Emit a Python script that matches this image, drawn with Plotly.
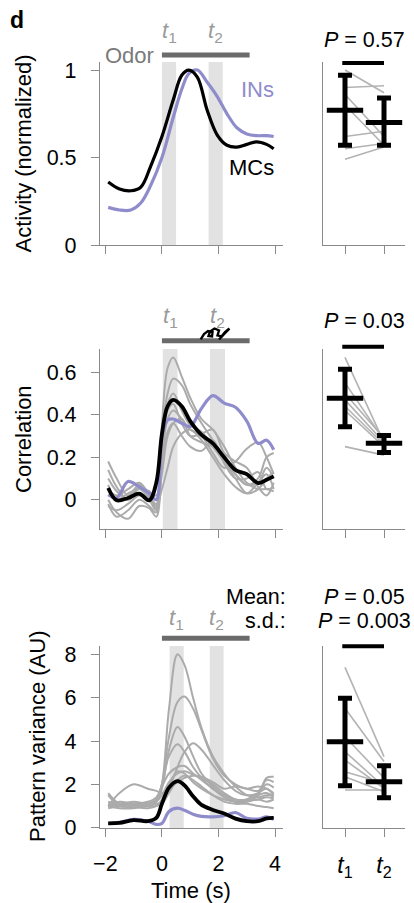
import plotly.graph_objects as go

W, H = 414, 903
FONT = "Liberation Sans"
GRAY_AX = "#8a8a8a"
PURPLE = "#8f8ccc"
GRAYLINE = "#ababab"
SHADE = "#e2e2e2"
ODOR = "#6b6b6b"
TLAB = "#9a9a9a"

def px(x):
    return x / W

def py(y):
    return 1 - y / H

# ---------------- Panel 1: activity ----------------
t_act = [-1.9, -1.5, -1.1, -0.75, -0.4, 0, 0.4, 0.7, 0.95, 1.25, 1.6, 1.95, 2.3, 2.65, 3.0, 3.35, 3.7, 3.95]
mc_act = [0.36, 0.32, 0.31, 0.33, 0.45, 0.62, 0.83, 0.97, 1.0, 0.96, 0.77, 0.63, 0.57, 0.56, 0.575, 0.59, 0.575, 0.55]
in_act = [0.215, 0.2, 0.2, 0.24, 0.34, 0.50, 0.73, 0.89, 0.98, 1.0, 0.93, 0.85, 0.75, 0.67, 0.635, 0.625, 0.625, 0.62]
win_act = [(0.0, 0.5), (1.65, 2.15)]

act_t1 = [1.0, 0.9, 0.86, 0.80, 0.62, 0.55, 0.49]
act_t2 = [0.87, 0.91, 0.62, 0.57, 0.65, 0.58, 0.56]
act_mean = [0.77, 0.70]
act_hi = [0.97, 0.84]
act_lo = [0.57, 0.57]

# ---------------- Panel 2: correlation ----------------
t_cor = [-1.9, -1.6, -1.2, -0.8, -0.45, -0.2, 0, 0.2, 0.4, 0.7, 1.0, 1.4, 1.8, 2.2, 2.6, 3.0, 3.4, 3.7, 3.95]
mc_cor = [0.055, -0.003, 0.008, 0.028, -0.003, 0.08, 0.31, 0.44, 0.47, 0.44, 0.37, 0.305, 0.265, 0.20, 0.14, 0.12, 0.078, 0.094, 0.11]
in_cor = [0.023, 0.008, 0.086, 0.06, 0.03, 0.0, 0.30, 0.375, 0.38, 0.36, 0.345, 0.43, 0.49, 0.455, 0.435, 0.37, 0.265, 0.28, 0.235]
gray_cor = [
    [0.14, 0.06, 0.0, 0.05, 0.0, -0.05, 0.35, 0.62, 0.67, 0.58, 0.48, 0.38, 0.33, 0.25, 0.15, 0.08, 0.05, 0.05, 0.04],
    [0.18, 0.1, 0.02, 0.07, 0.02, -0.02, 0.3, 0.5, 0.57, 0.54, 0.45, 0.36, 0.28, 0.2, 0.12, 0.07, 0.1, 0.2, 0.22],
    [-0.02, -0.08, -0.05, 0.0, -0.03, -0.06, 0.25, 0.42, 0.45, 0.36, 0.3, 0.31, 0.33, 0.22, 0.18, 0.15, 0.06, 0.02, 0.08],
    [0.05, 0.02, 0.05, 0.08, 0.03, 0.02, 0.2, 0.38, 0.42, 0.38, 0.33, 0.3, 0.22, 0.15, 0.18, 0.24, 0.27, 0.2, 0.12],
    [-0.03, -0.05, -0.02, 0.02, 0.0, -0.04, 0.12, 0.3, 0.36, 0.38, 0.3, 0.27, 0.25, 0.18, 0.1, 0.03, 0.05, 0.1, 0.13],
    [0.1, 0.04, 0.0, 0.06, 0.01, -0.03, 0.05, 0.15, 0.25, 0.31, 0.33, 0.28, 0.2, 0.12, 0.06, 0.03, 0.08, 0.12, 0.05],
    [0.0, -0.06, -0.09, -0.03, -0.04, -0.08, 0.15, 0.32, 0.36, 0.3, 0.25, 0.23, 0.28, 0.17, 0.1, 0.1, 0.13, 0.05, 0.06],
    [0.07, 0.0, 0.03, 0.05, 0.04, 0.0, 0.28, 0.45, 0.5, 0.42, 0.35, 0.32, 0.25, 0.18, 0.12, 0.07, 0.08, 0.15, 0.1],
]
win_cor = [(0.03, 0.55), (1.7, 2.23)]

cor_t1 = [0.67, 0.55, 0.50, 0.47, 0.44, 0.42, 0.25]
cor_t2 = [0.27, 0.28, 0.29, 0.27, 0.26, 0.25, 0.21]
cor_mean = [0.478, 0.266]
cor_hi = [0.614, 0.302]
cor_lo = [0.344, 0.222]

# ---------------- Panel 3: pattern variance ----------------
t_var = [-1.9, -1.5, -1.0, -0.5, -0.2, 0, 0.25, 0.55, 0.8, 1.1, 1.4, 1.8, 2.2, 2.6, 3.0, 3.4, 3.7, 3.95]
mc_var = [0.2, 0.22, 0.35, 0.3, 0.45, 1.1, 1.85, 2.15, 1.95, 1.45, 1.05, 0.82, 0.65, 0.42, 0.3, 0.3, 0.43, 0.45]
in_var = [0.2, 0.25, 0.38, 0.3, 0.15, 0.2, 0.75, 0.9, 0.8, 0.62, 0.52, 0.5, 0.55, 0.7, 0.43, 0.4, 0.5, 0.38]
gray_var = [
    [1.0, 1.0, 1.1, 1.0, 1.2, 2.0, 5.5, 8.0, 7.5, 6.0, 4.6, 3.3, 2.5, 1.9, 1.5, 1.4, 1.5, 1.5],
    [1.1, 1.0, 1.0, 1.1, 1.3, 2.0, 4.2, 5.8, 6.05, 5.5, 4.5, 3.2, 2.4, 2.0, 1.8, 1.9, 1.8, 1.6],
    [0.9, 1.0, 1.1, 1.0, 1.2, 1.8, 3.6, 4.65, 4.2, 3.3, 2.5, 1.9, 1.5, 1.3, 1.3, 1.5, 1.6, 1.4],
    [1.0, 1.1, 1.0, 1.1, 1.3, 2.0, 3.3, 3.85, 3.5, 2.8, 2.3, 1.8, 1.4, 1.2, 1.2, 1.3, 1.2, 1.3],
    [1.6, 1.1, 1.0, 1.0, 1.1, 1.2, 1.8, 2.8, 3.5, 3.9, 3.6, 2.9, 2.2, 1.7, 1.5, 1.6, 2.0, 1.85],
    [1.0, 1.2, 1.1, 1.2, 1.4, 1.9, 2.5, 2.8, 2.85, 2.5, 2.2, 1.8, 1.5, 1.2, 1.3, 1.6, 1.8, 1.5],
    [1.2, 1.1, 1.2, 1.1, 1.2, 1.5, 2.1, 2.5, 2.6, 2.45, 2.3, 2.0, 1.6, 1.3, 1.2, 1.5, 2.3, 2.35],
    [1.0, 1.6, 2.0, 1.8, 1.7, 1.6, 1.8, 2.1, 2.3, 2.4, 2.35, 2.1, 1.8, 1.9, 1.8, 1.7, 2.2, 2.1],
    [1.0, 0.9, 0.9, 1.0, 1.0, 1.1, 1.6, 2.2, 2.4, 2.2, 1.9, 1.5, 1.2, 1.1, 1.1, 1.0, 0.95, 0.9],
    [1.5, 1.0, 0.95, 0.9, 1.0, 1.3, 2.0, 2.6, 2.5, 2.1, 1.8, 1.5, 1.3, 1.2, 1.25, 1.3, 1.4, 1.35],
]
win_var = [(0.27, 0.77), (1.69, 2.18)]

var_t1 = [7.4, 5.51, 4.2, 3.51, 3.12, 2.58, 2.35, 1.74]
var_t2 = [3.28, 3.05, 2.3, 1.89, 1.82, 2.05, 1.66, 1.74]
var_mean = [3.97, 2.12]
var_hi = [5.97, 2.86]
var_lo = [1.94, 1.38]

odor_window = (0.0, 3.1)
time_ticks = [-2, 0, 2, 4]
cond_x = [1, 2]
cond_labels = ["<i>t</i><sub>1</sub>", "<i>t</i><sub>2</sub>"]
p_texts = [["<i>P</i> = 0.57"], ["<i>P</i> = 0.03"], ["<i>P</i> = 0.05", "<i>P</i> = 0.003"]]

fig = go.Figure()

panels = [
    dict(xl="x", yl="y", xr="x2", yr="y2", t=t_act, mc=mc_act, inn=in_act, gray=[], win=win_act,
         s1=act_t1, s2=act_t2, mean=act_mean, hi=act_hi, lo=act_lo, mw=3.2, gw=2, sig=0.995),
    dict(xl="x3", yl="y3", xr="x4", yr="y4", t=t_cor, mc=mc_cor, inn=in_cor, gray=gray_cor, win=win_cor,
         s1=cor_t1, s2=cor_t2, mean=cor_mean, hi=cor_hi, lo=cor_lo, mw=3.8, gw=2, sig=1.013),
    dict(xl="x5", yl="y5", xr="x6", yr="y6", t=t_var, mc=mc_var, inn=in_var, gray=gray_var, win=win_var,
         s1=var_t1, s2=var_t2, mean=var_mean, hi=var_hi, lo=var_lo, mw=3.8, gw=2, sig=0.998),
]

shapes = []
for p in panels:
    for g in p["gray"]:
        fig.add_trace(go.Scatter(x=p["t"], y=g, mode="lines", xaxis=p["xl"], yaxis=p["yl"],
                                 line=dict(color=GRAYLINE, width=p["gw"], shape="spline", smoothing=1.0),
                                 hoverinfo="skip"))
    fig.add_trace(go.Scatter(x=p["t"], y=p["inn"], mode="lines", xaxis=p["xl"], yaxis=p["yl"],
                             line=dict(color=PURPLE, width=3.2, shape="spline", smoothing=1.0)))
    fig.add_trace(go.Scatter(x=p["t"], y=p["mc"], mode="lines", xaxis=p["xl"], yaxis=p["yl"],
                             line=dict(color="black", width=p["mw"], shape="spline", smoothing=1.0)))
    for a, b in zip(p["s1"], p["s2"]):
        fig.add_trace(go.Scatter(x=cond_x, y=[a, b], mode="lines", xaxis=p["xr"], yaxis=p["yr"],
                                 line=dict(color="#b3b3b3", width=1.6), hoverinfo="skip"))
    plus = [h - m for h, m in zip(p["hi"], p["mean"])]
    minus = [m - l for m, l in zip(p["mean"], p["lo"])]
    fig.add_trace(go.Scatter(x=cond_x, y=p["mean"], mode="markers", xaxis=p["xr"], yaxis=p["yr"],
                             marker=dict(symbol="line-ew", size=26, color="black",
                                         line=dict(color="black", width=5)),
                             error_y=dict(type="data", array=plus, arrayminus=minus, symmetric=False,
                                          color="black", thickness=5, width=7)))
    for (a, b) in p["win"]:
        shapes.append(dict(type="rect", xref=p["xl"], yref=p["yl"] + " domain", x0=a, x1=b, y0=0, y1=1,
                           fillcolor=SHADE, line=dict(width=0), layer="below"))
    shapes.append(dict(type="line", xref=p["xr"], yref=p["yr"] + " domain", x0=0.93, x1=2.0,
                       y0=p["sig"], y1=p["sig"], line=dict(color="black", width=4)))

odor_y = [55, 340.7, 638.3]
tlab_y = [32, 317, 619]
for p, oy in zip(panels, odor_y):
    shapes.append(dict(type="line", xref=p["xl"], yref="paper", x0=odor_window[0], x1=odor_window[1],
                       y0=py(oy), y1=py(oy), line=dict(color=ODOR, width=5)))

# squiggle artifact near t2 of the correlation panel
sq = [(200.7, 339.3), (204, 334), (208, 331), (212.5, 332), (212, 336.5), (208.5, 336), (210, 331.5),
      (214.5, 328.5), (219, 330.5), (217.5, 335.5), (221.5, 336.5), (225, 332), (229.5, 328.5)]
path = "M " + " L ".join(f"{px(a):.5f},{py(b):.5f}" for a, b in sq)
shapes.append(dict(type="path", xref="paper", yref="paper", path=path, line=dict(color="black", width=2.4)))
shapes.append(dict(type="line", xref="paper", yref="paper", x0=px(219), y0=py(339.5), x1=px(229), y1=py(329),
                   line=dict(color="black", width=2.4)))

fs = 22
tfs = 21.5


def ann(x, y, text, xref="paper", size=fs, color="black", xanchor="center", angle=0):
    return dict(xref=xref, yref="paper", x=x, y=y, text=text, showarrow=False, xanchor=xanchor,
                yanchor="middle", textangle=angle, font=dict(family=FONT, size=size, color=color))


annotations = []
for p, ty in zip(panels, tlab_y):
    for i, (a, b) in enumerate(p["win"]):
        annotations.append(ann((a + b) / 2, py(ty), cond_labels[i], xref=p["xl"], color=TLAB))

annotations += [
    ann(px(8), py(20), "<b>d</b>", xanchor="left", size=23),
    ann(px(156), py(55), "Odor", xanchor="right", color="#7a7a7a"),
    ann(px(257), py(89), "INs", color=PURPLE),
    ann(px(251), py(167), "MCs"),
    ann(px(23), py(153.5), "Activity (normalized)", angle=-90),
    ann(px(23), py(439), "Correlation", angle=-90),
    ann(px(37), py(736), "Pattern variance (AU)", angle=-90),
    ann(px(191), py(890), "Time (s)"),
    ann(px(288), py(597), "Mean:", xanchor="right", size=21.5),
    ann(px(288), py(621), "s.d.:", xanchor="right", size=21.5),
]
p_y = [[40], [321], [597, 621]]
for p, texts, ys in zip(panels, p_texts, p_y):
    for txt, yy in zip(texts, ys):
        annotations.append(ann(1.5, py(yy), txt, xref=p["xr"], size=21.5))

axis_common = dict(showline=True, linecolor=GRAY_AX, linewidth=1.3, ticks="outside", tickcolor=GRAY_AX,
                   ticklen=8, tickwidth=1.3, showgrid=False, zeroline=False, automargin=False,
                   tickfont=dict(family=FONT, size=tfs, color="black"), fixedrange=True)

xl_dom = [px(100), px(283)]
xr_dom = [px(323), px(405)]
xl_rng = [-2.19, 4.28]
xr_rng = [0.436, 2.538]

ydoms = [[py(245), py(62)], [py(529), py(349)], [py(828), py(646)]]
yrngs = [[0, 1.046], [-0.138, 0.7096], [-0.015, 8.385]]
yticks = [([0, 0.5, 1], ["0", "0.5", "1"]), ([0, 0.2, 0.4, 0.6], ["0", "0.2", "0.4", "0.6"]),
          ([0, 2, 4, 6, 8], ["0", "2", "4", "6", "8"])]

layout_axes = {}
for i in range(3):
    lx = "xaxis" if i == 0 else f"xaxis{2 * i + 1}"
    rx = f"xaxis{2 * i + 2}"
    ly = "yaxis" if i == 0 else f"yaxis{2 * i + 1}"
    ry = f"yaxis{2 * i + 2}"
    yl_id = "y" if i == 0 else f"y{2 * i + 1}"
    yr_id = f"y{2 * i + 2}"
    xl_id = "x" if i == 0 else f"x{2 * i + 1}"
    xr_id = f"x{2 * i + 2}"
    last = i == 2
    layout_axes[lx] = dict(axis_common, domain=xl_dom, range=xl_rng, anchor=yl_id, tickvals=time_ticks,
                           showticklabels=last, ticklabelstandoff=8)
    layout_axes[rx] = dict(axis_common, domain=xr_dom, range=xr_rng, anchor=yr_id, tickvals=cond_x,
                           ticktext=cond_labels, showticklabels=last, ticklabelstandoff=8,
                           tickfont=dict(family=FONT, size=23, color="black"))
    layout_axes[ly] = dict(axis_common, domain=ydoms[i], range=yrngs[i], anchor=xl_id,
                           tickvals=yticks[i][0], ticktext=yticks[i][1], ticklabelstandoff=10)
    layout_axes[ry] = dict(axis_common, domain=ydoms[i], range=yrngs[i], anchor=xr_id, ticks="",
                           showticklabels=False)

fig.update_layout(template="none", width=W, height=H, margin=dict(l=0, r=0, t=0, b=0, pad=0),
                  showlegend=False, plot_bgcolor="white", paper_bgcolor="white", shapes=shapes,
                  annotations=annotations, font=dict(family=FONT, size=fs), **layout_axes)

fig.write_html("out.html", config={"displayModeBar": False},
               post_script="document.body.style.margin='0px';document.body.style.padding='0px';")
